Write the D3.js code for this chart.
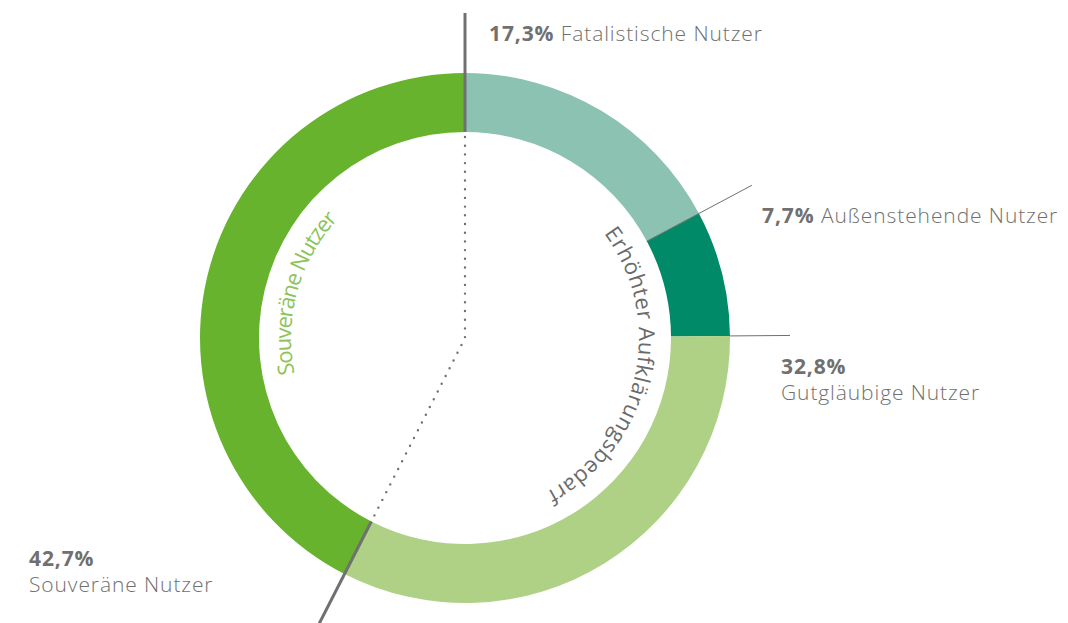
<!DOCTYPE html>
<html>
<head>
<meta charset="utf-8">
<script src="https://cdn.jsdelivr.net/npm/d3@7"></script>
<style>
  html, body { margin: 0; padding: 0; background: #fff; }
  svg text { font-family: "Open Sans", "Noto Sans", sans-serif; }
</style>
</head>
<body>
<svg id="donut" width="1068" height="623"></svg>
<script>
// Data
const categories = ['Fatalistische Nutzer', 'Außenstehende Nutzer', 'Gutgläubige Nutzer', 'Souveräne Nutzer'];
const shares = [17.3, 7.7, 32.8, 42.7];
const shareLabels = ['17,3%', '7,7%', '32,8%', '42,7%'];
const colors = ['#8cc2b2', '#008a68', '#afd186', '#67b32d'];
const groupLabels = ['Erhöhter Aufklärungsbedarf', 'Souveräne Nutzer'];

const svg = d3.select('#donut');
const cx = 465, cy = 338;
const outerR = 265, innerR = 206, leaderR = 325;

const g = svg.append('g').attr('transform', `translate(${cx},${cy})`);

const pie = d3.pie().sort(null).value(d => d);
const arcs = pie(shares);

const arc = d3.arc().innerRadius(innerR).outerRadius(outerR);

g.selectAll('path.slice')
  .data(arcs)
  .enter().append('path')
    .attr('class', 'slice')
    .attr('d', arc)
    .attr('fill', (d, i) => colors[i]);

// polar helper (angle from north, clockwise)
const pt = (a, r) => [r * Math.sin(a), -r * Math.cos(a)];

const gray = '#707070';

// dotted divider through the centre, split between the two groups
const splitA = arcs[3].startAngle;
const dotted = [pt(0, innerR - 5), [0, 0], pt(splitA, innerR - 5)];
g.append('path')
  .attr('d', d3.line()(dotted))
  .attr('fill', 'none')
  .attr('stroke', gray)
  .attr('stroke-width', 2.4)
  .attr('stroke-linecap', 'round')
  .attr('stroke-dasharray', '0 8.7');

// thick group separators
[0, splitA].forEach(a => {
  g.append('line')
    .attr('x1', pt(a, innerR)[0]).attr('y1', pt(a, innerR)[1])
    .attr('x2', pt(a, leaderR)[0]).attr('y2', pt(a, leaderR)[1])
    .attr('stroke', gray)
    .attr('stroke-width', 3);
});

// thin leaders
g.append('line')
  .attr('x1', pt(arcs[1].startAngle, innerR)[0]).attr('y1', pt(arcs[1].startAngle, innerR)[1])
  .attr('x2', pt(arcs[1].startAngle, leaderR)[0]).attr('y2', pt(arcs[1].startAngle, leaderR)[1])
  .attr('stroke', gray).attr('stroke-width', 1);
g.append('line')
  .attr('x1', pt(arcs[2].startAngle, outerR)[0]).attr('y1', pt(arcs[2].startAngle, outerR)[1])
  .attr('x2', pt(arcs[2].startAngle, leaderR)[0]).attr('y2', pt(arcs[2].startAngle, leaderR)[1])
  .attr('stroke', gray).attr('stroke-width', 1);

// curved group labels along inside of the ring
const textR = 174;
const circlePath = `M0,${-textR} A${textR},${textR} 0 1,1 0,${textR} A${textR},${textR} 0 1,1 0,${-textR}`;
g.append('path').attr('id', 'ringPath').attr('d', circlePath).attr('fill', 'none');
const circ = 2 * Math.PI * textR;

const curved = [
  {text: groupLabels[0], from: 53, to: 152, color: '#6b6b6b'},
  {text: groupLabels[1], from: 258, to: 313, color: '#8cc45a'}
];
curved.forEach(c => {
  g.append('text')
    .attr('font-size', 22)
    .attr('fill', c.color)
    .append('textPath')
      .attr('href', '#ringPath')
      .attr('startOffset', circ * c.from / 360)
      .attr('textLength', circ * (c.to - c.from) / 360)
      .attr('lengthAdjust', 'spacing')
      .text(c.text);
});

// outer labels
const labelPos = [
  {x: 489, y: 41, inline: true},
  {x: 762, y: 223, inline: true},
  {x: 781, y: 374, inline: false},
  {x: 29, y: 566, inline: false}
];
labelPos.forEach((p, i) => {
  const t = svg.append('text')
    .attr('x', p.x).attr('y', p.y)
    .attr('font-size', 21)
    .attr('letter-spacing', 0.9)
    .attr('fill', gray);
  t.append('tspan').attr('font-weight', 700).text(shareLabels[i]);
  if (p.inline) {
    t.append('tspan').attr('font-weight', 300).text(' ' + categories[i]);
  } else {
    t.append('tspan').attr('x', p.x).attr('dy', 26).attr('font-weight', 300).text(categories[i]);
  }
});
</script>
</body>
</html>
